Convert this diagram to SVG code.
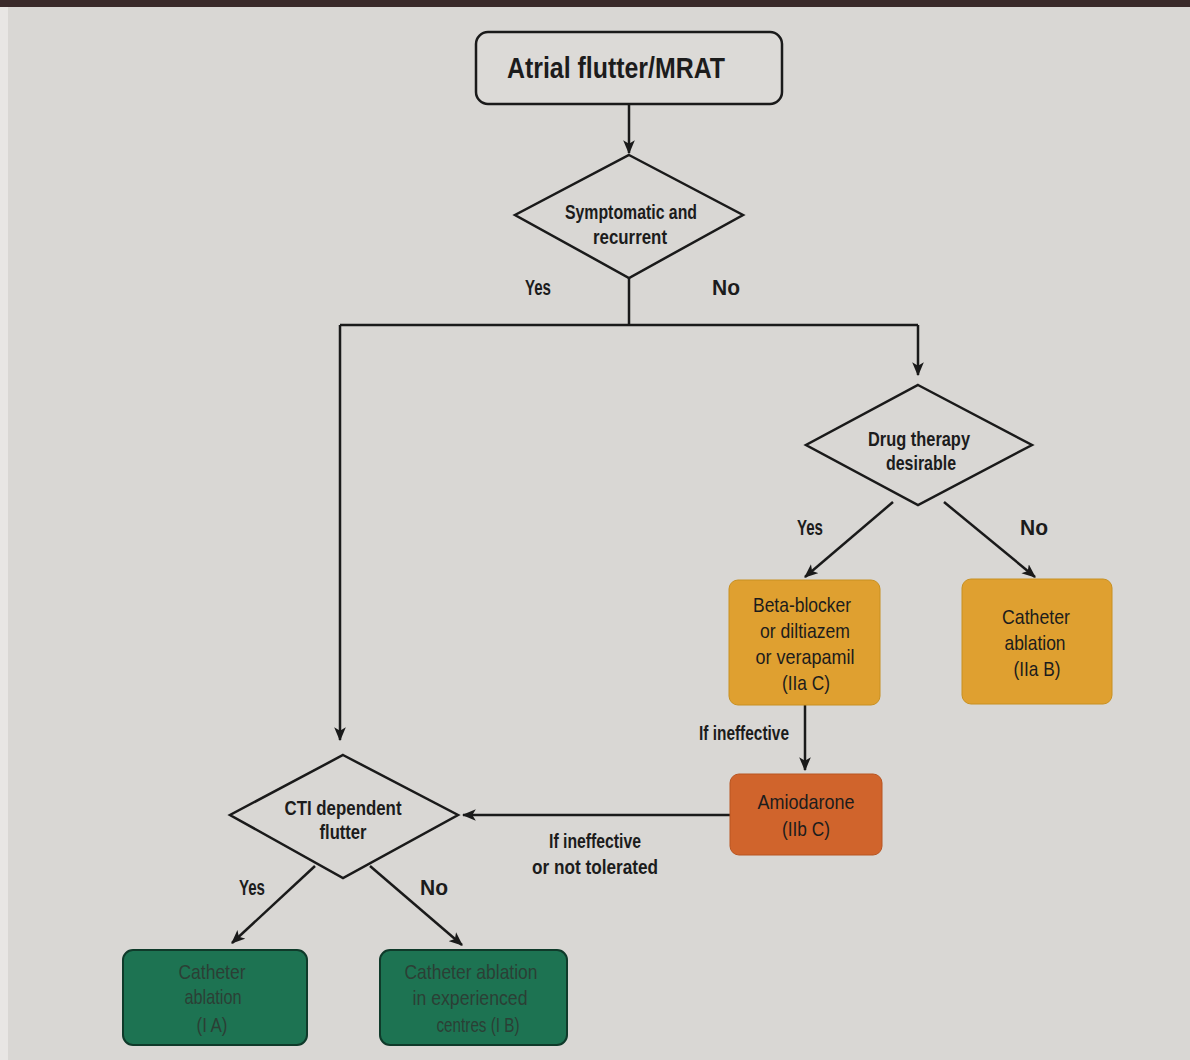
<svg xmlns="http://www.w3.org/2000/svg" width="1190" height="1060" viewBox="0 0 1190 1060">
<defs>
<marker id="arr" viewBox="0 0 12 10" refX="11" refY="5" markerWidth="14" markerHeight="12" markerUnits="userSpaceOnUse" orient="auto">
<path d="M0,0 L12,5 L0,10 L3,5 Z" fill="#1a1a1a"/>
</marker>
<style>
.t{font-family:"Liberation Sans",Arial,sans-serif;fill:#1c1c1c;text-anchor:middle}
.b{font-weight:bold}
.dia{fill:#d9d7d4;stroke:#1a1a1a;stroke-width:2.5}
.ln{fill:none;stroke:#1a1a1a;stroke-width:2.5}
.or{fill:#dfa030;stroke:#c89020;stroke-width:1}
.am{fill:#d0642c;stroke:#b85420;stroke-width:1}
.gr{fill:#1d7352;stroke:#0f3a2a;stroke-width:2}
.gt{fill:#2b3f35}
</style>
</defs>
<rect x="0" y="0" width="1190" height="1060" fill="#d9d7d4"/>
<rect x="0" y="0" width="1190" height="7" fill="#3a2a2a"/>
<rect x="0" y="7" width="8" height="1053" fill="#e8e6e4"/>

<g id="connectors">
<path class="ln" d="M629,104 L629,153" marker-end="url(#arr)"/>
<path class="ln" d="M629,278 L629,325"/>
<path class="ln" d="M340,325 L918,325"/>
<path class="ln" d="M340,325 L340,740" marker-end="url(#arr)"/>
<path class="ln" d="M918,325 L918,375" marker-end="url(#arr)"/>
<path class="ln" d="M893,502 L805,577" marker-end="url(#arr)"/>
<path class="ln" d="M944,502 L1035,577" marker-end="url(#arr)"/>
<path class="ln" d="M805,705 L805,770" marker-end="url(#arr)"/>
<path class="ln" d="M730,815 L463,815" marker-end="url(#arr)"/>
<path class="ln" d="M315,866 L232,943" marker-end="url(#arr)"/>
<path class="ln" d="M370,866 L462,945" marker-end="url(#arr)"/>
</g>

<g id="labels">
<text class="t b" x="538" y="295" font-size="22" textLength="26" lengthAdjust="spacingAndGlyphs">Yes</text>
<text class="t b" x="726" y="295" font-size="22" textLength="28" lengthAdjust="spacingAndGlyphs">No</text>
<text class="t b" x="810" y="535" font-size="22" textLength="26" lengthAdjust="spacingAndGlyphs">Yes</text>
<text class="t b" x="1034" y="535" font-size="22" textLength="28" lengthAdjust="spacingAndGlyphs">No</text>
<text class="t b" x="744" y="740" font-size="21" textLength="90" lengthAdjust="spacingAndGlyphs">If ineffective</text>
<text class="t b" x="595" y="848" font-size="21" textLength="92" lengthAdjust="spacingAndGlyphs">If ineffective</text>
<text class="t b" x="595" y="874" font-size="21" textLength="126" lengthAdjust="spacingAndGlyphs">or not tolerated</text>
<text class="t b" x="252" y="895" font-size="22" textLength="26" lengthAdjust="spacingAndGlyphs">Yes</text>
<text class="t b" x="434" y="895" font-size="22" textLength="28" lengthAdjust="spacingAndGlyphs">No</text>
</g>

<g id="start">
<rect x="476" y="32" width="306" height="72" rx="12" fill="#dcdad7" stroke="#1a1a1a" stroke-width="2.5"/>
<text class="t b" x="616" y="78" font-size="30" textLength="218" lengthAdjust="spacingAndGlyphs">Atrial flutter/MRAT</text>
</g>

<g id="d-symptomatic">
<polygon class="dia" points="629,155 743,215 629,278 515,215"/>
<text class="t b" x="631" y="219" font-size="21" textLength="132" lengthAdjust="spacingAndGlyphs">Symptomatic and</text>
<text class="t b" x="630" y="244" font-size="21" textLength="74" lengthAdjust="spacingAndGlyphs">recurrent</text>
</g>

<g id="d-drug">
<polygon class="dia" points="918,385 1032,445 918,505 806,445"/>
<text class="t b" x="919" y="446" font-size="21" textLength="102" lengthAdjust="spacingAndGlyphs">Drug therapy</text>
<text class="t b" x="921" y="470" font-size="21" textLength="70" lengthAdjust="spacingAndGlyphs">desirable</text>
</g>

<g id="b-beta">
<rect class="or" x="729" y="580" width="151" height="125" rx="9"/>
<text class="t" x="802" y="612" font-size="21" textLength="98" lengthAdjust="spacingAndGlyphs">Beta-blocker</text>
<text class="t" x="805" y="638" font-size="21" textLength="90" lengthAdjust="spacingAndGlyphs">or diltiazem</text>
<text class="t" x="805" y="664" font-size="21" textLength="99" lengthAdjust="spacingAndGlyphs">or verapamil</text>
<text class="t" x="806" y="690" font-size="21" textLength="48" lengthAdjust="spacingAndGlyphs">(IIa C)</text>
</g>

<g id="b-cath-iib">
<rect class="or" x="962" y="579" width="150" height="125" rx="9"/>
<text class="t" x="1036" y="624" font-size="21" textLength="68" lengthAdjust="spacingAndGlyphs">Catheter</text>
<text class="t" x="1035" y="650" font-size="21" textLength="61" lengthAdjust="spacingAndGlyphs">ablation</text>
<text class="t" x="1037" y="676" font-size="21" textLength="47" lengthAdjust="spacingAndGlyphs">(IIa B)</text>
</g>

<g id="b-amio">
<rect class="am" x="730" y="774" width="152" height="81" rx="9"/>
<text class="t" x="806" y="809" font-size="21" textLength="97" lengthAdjust="spacingAndGlyphs">Amiodarone</text>
<text class="t" x="806" y="836" font-size="21" textLength="48" lengthAdjust="spacingAndGlyphs">(IIb C)</text>
</g>

<g id="d-cti">
<polygon class="dia" points="343,755 458,815 343,878 230,815"/>
<text class="t b" x="343" y="815" font-size="21" textLength="117" lengthAdjust="spacingAndGlyphs">CTI dependent</text>
<text class="t b" x="343" y="839" font-size="21" textLength="47" lengthAdjust="spacingAndGlyphs">flutter</text>
</g>

<g id="b-cath-ia">
<rect class="gr" x="123" y="950" width="184" height="95" rx="10"/>
<text class="t gt" x="212" y="979" font-size="21" textLength="67" lengthAdjust="spacingAndGlyphs">Catheter</text>
<text class="t gt" x="213" y="1004" font-size="21" textLength="57" lengthAdjust="spacingAndGlyphs">ablation</text>
<text class="t gt" x="212" y="1032" font-size="21" textLength="31" lengthAdjust="spacingAndGlyphs">(I A)</text>
</g>

<g id="b-cath-ib">
<rect class="gr" x="380" y="950" width="187" height="95" rx="10"/>
<text class="t gt" x="471" y="979" font-size="21" textLength="133" lengthAdjust="spacingAndGlyphs">Catheter ablation</text>
<text class="t gt" x="470" y="1005" font-size="21" textLength="115" lengthAdjust="spacingAndGlyphs">in experienced</text>
<text class="t gt" x="478" y="1032" font-size="21" textLength="83" lengthAdjust="spacingAndGlyphs">centres (I B)</text>
</g>
</svg>
